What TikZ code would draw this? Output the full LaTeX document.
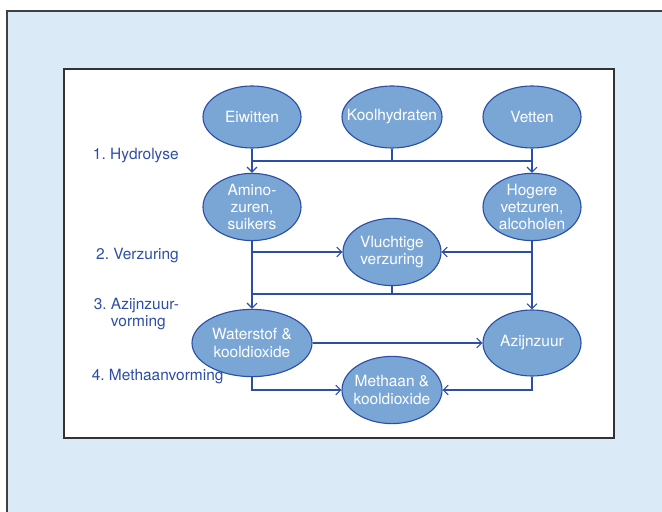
\documentclass[tikz,border=0pt]{standalone}
\usepackage{fontspec}
\setmainfont{TeX Gyre Heros}
\usetikzlibrary{shapes.geometric, arrows.meta}
\definecolor{vatblauw}{RGB}{122,166,214}
\definecolor{lijnblauw}{RGB}{44,78,166}
\definecolor{kaderblauw}{RGB}{218,235,247}
\frenchspacing

\begin{document}
\begin{tikzpicture}[
    stof/.style={ellipse,draw=lijnblauw,fill=vatblauw,line width=0.8pt,
          minimum width=2.45cm,minimum height=1.68cm,inner sep=-9pt,
          align=center,font=\fontsize{11}{12.2}\selectfont\color{white}},
    fase/.style={anchor=west,align=left,
          font=\fontsize{11}{12.5}\selectfont\color{lijnblauw}},
    pijl/.style={-{Straight Barb[length=3.5pt,width=7pt]},line width=0.8pt,lijnblauw},
    lijn/.style={line width=0.8pt,lijnblauw}]
    \useasboundingbox (0,0) rectangle (16.55,-12.8);
    \clip (0,0) rectangle (16.55,-12.8);
    \draw[line width=1pt,black!75,fill=kaderblauw] (0.175,-0.275) rectangle (17,-13.5);
    \draw[line width=1pt,black!80,fill=white] (1.6,-1.725) rectangle (15.35,-10.95);

    % uitgangsstoffen
    \node[stof,minimum height=1.55cm] (eiwit) at (6.3,-2.925) {Eiwitten};
    \node[stof,minimum height=1.55cm,minimum width=2.5cm] (kool) at (9.8,-2.925) {Koolhydraten};
    \node[stof,minimum height=1.55cm] (vet) at (13.3,-2.925) {Vetten};
    % tussenproducten
    \node[stof] (amino) at (6.3,-5.175) {Amino-\\zuren,\\suikers};
    \node[stof] (hoger) at (13.3,-5.175) {Hogere\\vetzuren,\\alcoholen};
    \node[stof] (vlucht) at (9.8,-6.3) {Vluchtige\\verzuring};
    \node[stof,minimum width=3cm] (water) at (6.3,-8.575) {Waterstof \&\\kooldioxide};
    \node[stof,minimum height=1.65cm] (azijn) at (13.3,-8.575) {Azijnzuur};
    \node[stof,minimum width=2.5cm] (methaan) at (9.8,-9.75) {Methaan \&\\kooldioxide};

    % fasen
    \node[fase] (f1) at (2.2,-3.9) {1. Hydrolyse};
    \node[fase] (f2) at (2.28,-6.4) {2. Verzuring};
    \node[fase] (f3) at (2.22,-7.85) {3. Azijnzuur-\\\phantom{3. }vorming};
    \node[fase] (f4) at (2.17,-9.425) {4. Methaanvorming};

    % verbindingen
    \coordinate (h1) at (6.3,-4.025);
    \coordinate (h2) at (13.3,-4.025);
    \coordinate (h3) at (9.8,-4.025);
    \coordinate (v1) at (6.3,-7.35);
    \coordinate (v2) at (13.3,-7.35);
    \coordinate (v3) at (9.8,-7.35);
    \draw[lijn] (h1) -- (h2);
    \draw[lijn] (kool) -- (h3);
    \draw[lijn] (v1) -- (v2);
    \draw[lijn] (vlucht) -- (v3);
    \draw[pijl] (eiwit) -- (amino);
    \draw[pijl] (vet) -- (hoger);
    \draw[pijl] (amino) |- (vlucht);
    \draw[pijl] (hoger) |- (vlucht);
    \draw[pijl] (amino) -- (water);
    \draw[pijl] (hoger) -- (azijn);
    \draw[pijl] (water) -- (azijn);
    \draw[pijl] (water) |- (methaan);
    \draw[pijl] (azijn) |- (methaan);
  \end{tikzpicture}
\end{document}
